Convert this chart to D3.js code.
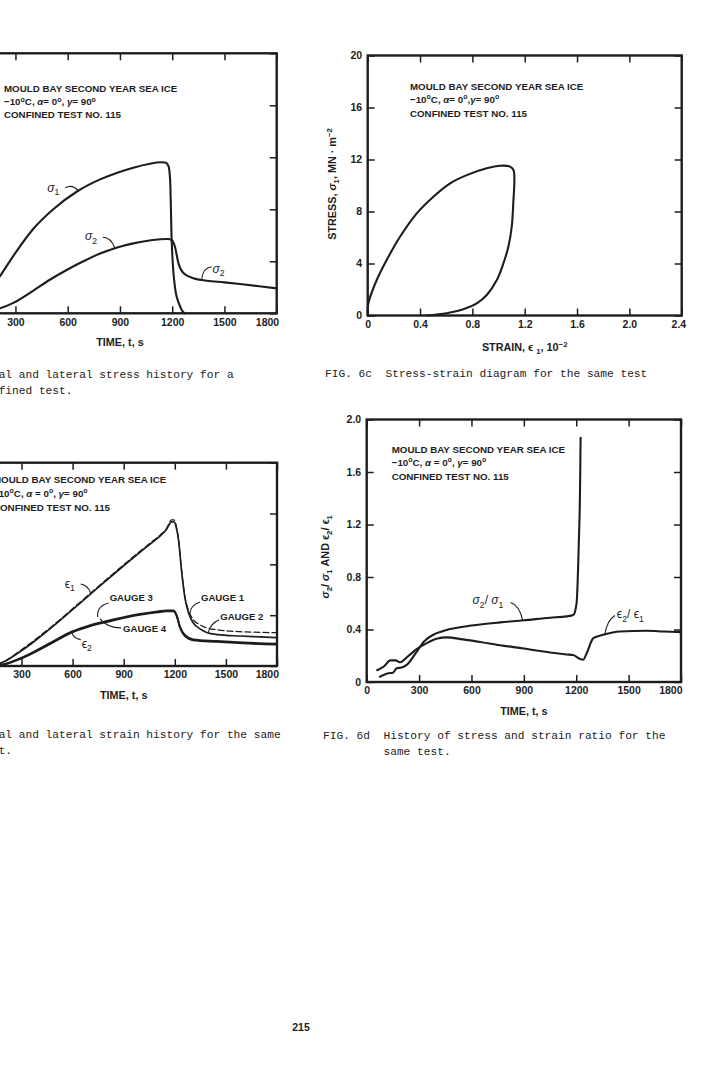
<!DOCTYPE html>
<html><head><meta charset="utf-8"><title>Fig 6 - Mould Bay sea ice confined test 115</title>
<script src="https://cdn.jsdelivr.net/npm/d3@7/dist/d3.min.js"></script>
<style>html,body{margin:0;padding:0;background:#fff;} svg{display:block;}</style>
</head><body>
<svg id="page" width="728" height="1071"></svg>
<script>
// ---------------- data ----------------
const timeTicks = [0, 300, 600, 900, 1200, 1500, 1800];
const stressTicks = [0, 4, 8, 12, 16, 20];
const strainTicksC = [0, 0.4, 0.8, 1.2, 1.6, 2.0, 2.4];
const strainTicksB = [0, 0.4, 0.8, 1.2, 1.6];
const ratioTicks = [0, 0.4, 0.8, 1.2, 1.6, 2.0];

// Fig 6a : stress history (MN/m2)
const timeA1  = [0, 60, 120, 170, 211, 300, 403, 517, 651, 786, 881, 977, 1072, 1130, 1160, 1178, 1188, 1197, 1216, 1240, 1255, 1270];
const sigma1A = [0, 0.4, 1.15, 2.05, 2.85, 4.65, 6.5, 8.0, 9.35, 10.3, 10.8, 11.2, 11.5, 11.62, 11.6, 11.35, 10.3, 5.6, 2.0, 0.7, 0.25, 0];
const timeA2  = [0, 60, 120, 170, 211, 288, 403, 500, 594, 690, 786, 880, 977, 1060, 1130, 1175, 1197, 1216, 1235, 1264, 1321, 1398, 1500, 1589, 1700, 1800];
const sigma2A = [0, 0.03, 0.1, 0.22, 0.38, 0.8, 1.75, 2.6, 3.33, 4.0, 4.6, 5.05, 5.38, 5.58, 5.7, 5.72, 5.64, 5.1, 3.9, 3.1, 2.7, 2.51, 2.38, 2.25, 2.08, 1.92];

// Fig 6c : stress-strain loop
const strainC = [0, 0.005, 0.069, 0.145, 0.247, 0.375, 0.502, 0.63, 0.757, 0.91, 1.012, 1.088, 1.114, 1.121, 1.114, 1.101, 1.075, 1.037, 0.987, 0.91, 0.834, 0.731, 0.604, 0.451];
const stressC = [0, 0.94, 2.73, 4.27, 6.06, 7.86, 9.14, 10.17, 10.8, 11.32, 11.52, 11.45, 11.19, 10.42, 8.88, 6.83, 5.29, 4.0, 2.73, 1.58, 0.94, 0.48, 0.17, 0];

// Fig 6b : strain history (10^-2)
const timeB1 = [0, 60, 120, 174, 291, 467, 702, 956, 1048, 1113, 1150, 1181, 1195, 1211, 1222, 1240, 1259, 1279, 1308, 1348, 1387, 1450, 1583, 1700, 1800];
const gauge1 = [0, 0.003, 0.008, 0.02, 0.12, 0.3, 0.57, 0.86, 0.96, 1.03, 1.08, 1.15, 1.15, 1.09, 1.0, 0.755, 0.55, 0.445, 0.365, 0.325, 0.3, 0.285, 0.27, 0.265, 0.262];
const gauge2 = [0, 0.003, 0.008, 0.02, 0.112, 0.292, 0.562, 0.852, 0.952, 1.022, 1.072, 1.135, 1.135, 1.075, 0.99, 0.745, 0.54, 0.425, 0.34, 0.292, 0.264, 0.247, 0.236, 0.229, 0.223];
const timeB2 = [0, 60, 120, 174, 291, 467, 594, 700, 819, 995, 1100, 1152, 1191, 1211, 1230, 1259, 1308, 1445, 1600, 1800];
const gauge3 = [0, 0.002, 0.004, 0.008, 0.06, 0.18, 0.27, 0.32, 0.36, 0.41, 0.43, 0.437, 0.437, 0.40, 0.31, 0.244, 0.21, 0.197, 0.185, 0.175];
const gauge4 = [0, 0.001, 0.003, 0.006, 0.055, 0.172, 0.262, 0.312, 0.352, 0.402, 0.423, 0.43, 0.43, 0.393, 0.303, 0.236, 0.203, 0.19, 0.178, 0.168];

// Fig 6d : ratios
const timeD1 = [76, 100, 124, 150, 172, 200, 229, 286, 330, 381, 430, 477, 600, 763, 900, 1050, 1145, 1183, 1202, 1211, 1216, 1221, 1223, 1225];
const ratioSigma = [0.04, 0.055, 0.066, 0.07, 0.105, 0.11, 0.13, 0.23, 0.31, 0.36, 0.385, 0.403, 0.43, 0.454, 0.47, 0.49, 0.5, 0.51, 0.6, 0.88, 1.12, 1.39, 1.6, 1.86];
const timeD2 = [60, 100, 135, 165, 191, 240, 286, 350, 400, 458, 550, 650, 763, 900, 1050, 1145, 1183, 1221, 1240, 1260, 1298, 1355, 1450, 1603, 1700, 1800];
const ratioEps = [0.09, 0.12, 0.165, 0.165, 0.15, 0.2, 0.25, 0.3, 0.33, 0.34, 0.325, 0.305, 0.28, 0.255, 0.225, 0.21, 0.205, 0.176, 0.17, 0.22, 0.334, 0.36, 0.385, 0.39, 0.385, 0.38];

const noteTitle = "MOULD BAY SECOND YEAR SEA ICE";
const noteTest = "CONFINED TEST NO. 115";
const captionA = ["FIG. 6a", "Axial and lateral stress history for a", "confined test."];
const captionB = ["FIG. 6b", "Axial and lateral strain history for the same", "test."];
const captionC = ["FIG. 6c", "Stress-strain diagram for the same test"];
const captionD = ["FIG. 6d", "History of stress and strain ratio for the", "same test."];
const pageNumber = "215";

// ---------------- drawing ----------------
const INK = "#1d1d1d";
const SANS = "'Liberation Sans', Arial, Helvetica, sans-serif";
const MONO = "'Liberation Mono', 'Courier New', monospace";
const svg = d3.select("#page");
svg.append("rect").attr("width", 728).attr("height", 1071).attr("fill", "#fff");

function rich(text, segs, base) {
  let shift = 0;
  segs.forEach(s => {
    const target = s.sup ? -base * 0.4 : (s.sub ? base * 0.28 : 0);
    const ts = text.append("tspan").text(s.t);
    if (target !== shift) { ts.attr("dy", target - shift); shift = target; }
    if (s.sup || s.sub) ts.attr("font-size", base * 0.72);
    if (s.it) ts.attr("font-style", "italic");
  });
}

const fmt1 = d => d === 0 ? "0" : d3.format(".1f")(d);
const fmtI = d3.format("d");

function panel(c) {
  const g = svg.append("g").attr("transform", `translate(${c.left},${c.top})`);
  const x = d3.scaleLinear().domain(c.xd).range([0, c.w]);
  const y = d3.scaleLinear().domain(c.yd).range([c.h, 0]);
  const style = s => {
    s.select(".domain").remove();
    s.selectAll(".tick line").attr("stroke", INK).attr("stroke-width", 1.5);
    s.selectAll("text").attr("fill", INK).attr("font-family", SANS)
      .attr("font-weight", "bold").attr("font-size", 10.5);
  };
  g.append("g").attr("transform", `translate(0,${c.h})`)
    .call(d3.axisBottom(x).tickValues(c.xt).tickFormat(c.xf).tickSizeInner(-7).tickSizeOuter(0).tickPadding(5))
    .call(style)
    .call(s => s.selectAll(".tick text").filter((d, i, n) => i === n.length - 1)
      .attr("text-anchor", "end").attr("x", c.lastDx));
  g.append("g")
    .call(d3.axisTop(x).tickValues(c.xt).tickFormat("").tickSizeInner(-7).tickSizeOuter(0))
    .call(style);
  g.append("g")
    .call(d3.axisLeft(y).tickValues(c.yt).tickFormat(c.yf).tickSizeInner(-7).tickSizeOuter(0).tickPadding(5.5))
    .call(style);
  g.append("g").attr("transform", `translate(${c.w},0)`)
    .call(d3.axisRight(y).tickValues(c.yt).tickFormat("").tickSizeInner(-7).tickSizeOuter(0))
    .call(style);
  g.append("rect").attr("width", c.w).attr("height", c.h)
    .attr("fill", "none").attr("stroke", INK).attr("stroke-width", 2.4);
  const xt = g.append("text").attr("x", c.w / 2).attr("y", c.h + c.xTitleDy)
    .attr("text-anchor", "middle").attr("font-family", SANS).attr("font-weight", "bold")
    .attr("font-size", 10.8).attr("fill", INK);
  rich(xt, c.xTitle, 10.8);
  if (c.yTitle) {
    const yt = g.append("text")
      .attr("transform", `translate(${c.yTitleX},${c.h / 2 + (c.yTitleDy || 0)}) rotate(-90)`)
      .attr("text-anchor", "middle").attr("font-family", SANS).attr("font-weight", "bold")
      .attr("font-size", 10.8).attr("fill", INK);
    rich(yt, c.yTitle, 10.8);
  }
  const nx = c.note[0], ny = c.note[1], lh = c.note[2];
  const nt = (yy) => g.append("text").attr("x", nx).attr("y", yy).attr("font-family", SANS)
    .attr("font-weight", "bold").attr("font-size", 9.75).attr("fill", INK);
  nt(ny).text(noteTitle);
  rich(nt(ny + lh), c.note2, 9.75);
  nt(ny + 2 * lh).text(noteTest);
  return { g, x, y };
}

function curve(p, xs, ys, opt) {
  const gen = d3.line().x(d => p.x(d[0])).y(d => p.y(d[1]))
    .curve(opt.cat ? d3.curveCatmullRom.alpha(0.5) : d3.curveMonotoneX);
  p.g.append("path").datum(d3.zip(xs, ys)).attr("d", gen)
    .attr("fill", "none").attr("stroke", INK).attr("stroke-width", opt.w || 2.1)
    .attr("stroke-linejoin", "round").attr("stroke-linecap", "round")
    .attr("stroke-dasharray", opt.dash || null);
}

function at(xs, ys, t) {
  const i = Math.max(1, d3.bisectLeft(xs, t));
  const f = (t - xs[i - 1]) / (xs[i] - xs[i - 1]);
  return ys[i - 1] + f * (ys[i] - ys[i - 1]);
}

function label(p, t, v, segs, o) {
  const bx = p.x(t), by = p.y(v);
  const ax = bx + o.a[0], ay = by + o.a[1];
  const cx = bx + o.c[0], cy = by + o.c[1];
  p.g.append("path").attr("d", `M${ax},${ay}Q${cx},${cy} ${bx},${by}`)
    .attr("fill", "none").attr("stroke", INK).attr("stroke-width", 1.1);
  const tx = p.g.append("text").attr("x", bx + o.t[0]).attr("y", by + o.t[1])
    .attr("font-family", SANS).attr("font-size", o.size || 12).attr("fill", INK)
    .attr("font-weight", o.bold ? "bold" : null);
  rich(tx, segs, o.size || 12);
}

const note2A = [{ t: "\u221210" }, { t: "o", sup: 1 }, { t: "C, " }, { t: "\u03b1", it: 1 }, { t: "= 0" }, { t: "o", sup: 1 }, { t: ", " }, { t: "\u03b3", it: 1 }, { t: "= 90" }, { t: "o", sup: 1 }];
const note2C = [{ t: "\u221210" }, { t: "o", sup: 1 }, { t: "C, " }, { t: "\u03b1", it: 1 }, { t: "= 0" }, { t: "o", sup: 1 }, { t: "," }, { t: "\u03b3", it: 1 }, { t: "= 90" }, { t: "o", sup: 1 }];
const note2D = [{ t: "\u221210" }, { t: "o", sup: 1 }, { t: "C, " }, { t: "\u03b1", it: 1 }, { t: " = 0" }, { t: "o", sup: 1 }, { t: ", " }, { t: "\u03b3", it: 1 }, { t: "= 90" }, { t: "o", sup: 1 }];
const timeTitle = [{ t: "TIME, t, s" }];

// ---- Fig 6a ----
const pA = panel({ left: -36.8, top: 53.3, w: 313.5, h: 260, xd: [0, 1800], yd: [0, 20],
  xt: timeTicks, yt: stressTicks, xf: fmtI, yf: fmtI, lastDx: 2, xTitleDy: 33, xTitle: timeTitle,
  yTitle: [{ t: "STRESS, " }, { t: "\u03c3", it: 1 }, { t: ", MN \u00b7 m" }, { t: "\u22122", sup: 1 }], yTitleX: -32,
  note: [40.8, 39.2, 13], note2: note2A });
curve(pA, timeA1, sigma1A, {});
curve(pA, timeA2, sigma2A, {});
label(pA, 661, at(timeA1, sigma1A, 661), [{ t: "\u03c3", it: 1 }, { t: "1", sub: 1 }], { a: [-13, -3], c: [-6, -7], t: [-31, 1] });
label(pA, 871, at(timeA2, sigma2A, 871), [{ t: "\u03c3", it: 1 }, { t: "2", sub: 1 }], { a: [-12, -11], c: [-4, -11], t: [-30, -8] });
label(pA, 1369, at(timeA2, sigma2A, 1369), [{ t: "\u03c3", it: 1 }, { t: "2", sub: 1 }], { a: [10, -13], c: [1, -12], t: [11, -7] });

// ---- Fig 6c ----
const pC = panel({ left: 367.7, top: 55.5, w: 314, h: 260, xd: [0, 2.4], yd: [0, 20],
  xt: strainTicksC, yt: stressTicks, xf: fmt1, yf: fmtI, lastDx: 4, xTitleDy: 35.5,
  xTitle: [{ t: "STRAIN, " }, { t: "\u03f5" }, { t: " " }, { t: "1", sub: 1 }, { t: ", 10" }, { t: "\u22122", sup: 1 }],
  yTitle: [{ t: "STRESS, " }, { t: "\u03c3", it: 1 }, { t: "1", sub: 1 }, { t: ", MN \u00b7 m" }, { t: "\u22122", sup: 1 }],
  yTitleX: -31.5, yTitleDy: -1.5,
  note: [42.3, 34, 13.5], note2: note2C });
curve(pC, strainC, stressC, { cat: 1 });

// ---- Fig 6b ----
const pB = panel({ left: -29.6, top: 462.7, w: 306.6, h: 203.3, xd: [0, 1800], yd: [0, 1.6],
  xt: timeTicks, yt: strainTicksB, xf: fmtI, yf: fmt1, lastDx: 1.5, xTitleDy: 33, xTitle: timeTitle,
  note: [22.6, 20.8, 13.8], note2: note2D });
curve(pB, timeB1, gauge1, { w: 1.2, dash: "6,3" });
curve(pB, timeB1, gauge2, { w: 1.7 });
curve(pB, timeB2, gauge3, { w: 1.9 });
curve(pB, timeB2, gauge4, { w: 1.9 });
label(pB, 706, at(timeB1, gauge1, 706), [{ t: "\u03f5" }, { t: "1", sub: 1 }], { a: [-10, -9], c: [-3, -8], t: [-26, -5] });
label(pB, 747, at(timeB2, gauge3, 747) + 0.05, [{ t: "GAUGE 3" }], { a: [11, -14], c: [-1, -11], t: [12, -16], size: 9.6, bold: 1 });
label(pB, 761, at(timeB2, gauge3, 761) + 0.03, [{ t: "GAUGE 4" }], { a: [21, 9], c: [7, 9], t: [23, 13.5], size: 9.6, bold: 1 });
label(pB, 595, at(timeB2, gauge4, 595), [{ t: "\u03f5" }, { t: "2", sub: 1 }], { a: [9, 7], c: [2, 6], t: [10, 15] });
label(pB, 1289, at(timeB1, gauge1, 1289), [{ t: "GAUGE 1" }], { a: [10, -11], c: [1, -8], t: [11, -11.5], size: 9.6, bold: 1 });
label(pB, 1396, at(timeB1, gauge2, 1396), [{ t: "GAUGE 2" }], { a: [11, -13], c: [2, -9], t: [12, -12.5], size: 9.6, bold: 1 });

// ---- Fig 6d ----
const pD = panel({ left: 366.7, top: 419.5, w: 314.3, h: 262.5, xd: [0, 1800], yd: [0, 2.0],
  xt: timeTicks, yt: ratioTicks, xf: fmtI, yf: fmt1, lastDx: 1, xTitleDy: 32.5, xTitle: timeTitle,
  yTitle: [{ t: "\u03c3", it: 1 }, { t: "2", sub: 1 }, { t: "/ " }, { t: "\u03c3", it: 1 }, { t: "1", sub: 1 }, { t: " AND " }, { t: "\u03f5" }, { t: "2", sub: 1 }, { t: "/ " }, { t: "\u03f5" }, { t: "1", sub: 1 }],
  yTitleX: -37.5, yTitleDy: 6,
  note: [25, 33, 13.8], note2: note2D });
curve(pD, timeD1, ratioSigma, {});
curve(pD, timeD2, ratioEps, {});
label(pD, 893, at(timeD1, ratioSigma, 893), [{ t: "\u03c3", it: 1 }, { t: "2", sub: 1 }, { t: "/ " }, { t: "\u03c3", it: 1 }, { t: "1", sub: 1 }], { a: [-12, -18], c: [-3, -15], t: [-50, -16] });
label(pD, 1364, at(timeD2, ratioEps, 1364), [{ t: "\u03f5" }, { t: "2", sub: 1 }, { t: "/ " }, { t: "\u03f5" }, { t: "1", sub: 1 }], { a: [10, -19], c: [2, -14], t: [12, -16] });

// ---- captions ----
const CAP = 11.2, CW = CAP * 0.6;
function caption(x0, y0, parts) {
  const mk = (xx, yy, s) => svg.append("text").attr("x", xx).attr("y", yy).attr("font-family", MONO)
    .attr("font-size", CAP).attr("fill", "#222").text(s);
  mk(x0, y0, parts[0]);
  mk(x0 + 9 * CW, y0, parts[1]);
  if (parts[2]) mk(x0 + 9 * CW, y0 + 16, parts[2]);
}
caption(-82, 378, captionA);
caption(325, 377, captionC);
caption(-82, 738, captionB);
caption(323, 739, captionD);

svg.append("text").attr("x", 301).attr("y", 1031).attr("text-anchor", "middle")
  .attr("font-family", SANS).attr("font-weight", "bold").attr("font-size", 10.5).attr("fill", INK).text(pageNumber);
</script>
</body></html>
